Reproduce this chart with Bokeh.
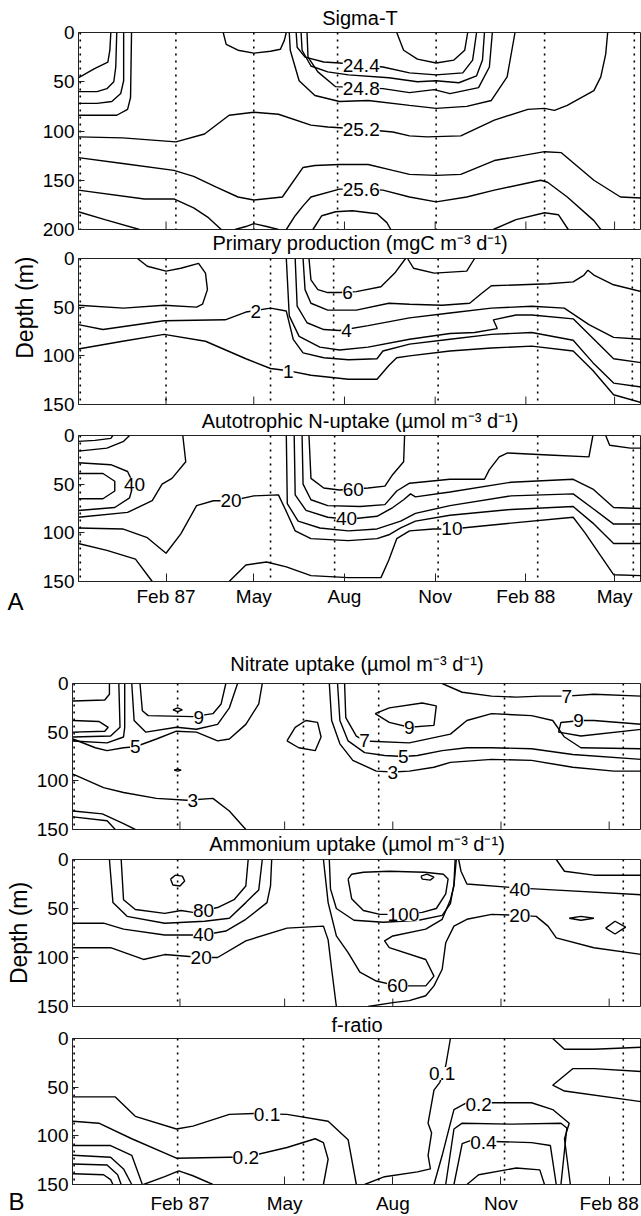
from bokeh.plotting import figure
from bokeh.layouts import column
from bokeh.models import Range1d, FixedTicker, LabelSet, ColumnDataSource, Title
from bokeh.embed import file_html
from bokeh.resources import INLINE
from bokeh.core.properties import value

FONT = "Liberation Sans"

# ---------------- DATA (x = days since 1 Nov 1986, y = depth in m) ----------------
tick_days_a = [92, 181, 273, 365, 457, 547]
tick_labels_a = ["Feb 87", "May", "Aug", "Nov", "Feb 88", "May"]
tick_days_b = [92, 181, 273, 365, 457]
tick_labels_b = ["Feb 87", "May", "Aug", "Nov", "Feb 88"]

sigma_cruise_days = [5, 102, 181, 266, 366, 476, 567]
pp_cruise_days = [5, 92, 198, 262, 368, 469, 565]
nup_cruise_days = [5, 198, 263, 368, 469, 566]
b_cruise_days = [2, 90, 197, 261, 368, 469]

# Sigma-T isopycnals
sigma_days = [
    [36, 35, 33, 19, 3],
    [42, 41, 39, 32, 22, 3],
    [49, 49, 46, 37, 22, 3],
    [57, 56, 53, 42, 3],
    [150, 153, 165, 181, 198, 208, 212, 214],
    [326, 333, 347, 366, 384, 395, 398],
    [224, 225, 233, 252, 268, 312, 339, 366, 393, 403, 407],
    [229, 230, 239, 256, 277, 318, 347, 366, 389, 407, 413, 415],
    [235, 236, 246, 264, 312, 339, 364, 380, 409, 420, 423],
    [217, 218, 227, 243, 268, 297, 339, 366, 397, 422, 438, 446],
    [3, 48, 102, 131, 156, 181, 206, 239, 256, 289, 322, 339, 357, 391, 425, 459, 476, 486, 499, 526, 533, 538, 540],
    [3, 48, 100, 120, 143, 165, 181, 210, 231, 243, 268, 297, 322, 339, 366, 391, 425, 476, 493, 526, 553, 575],
    [3, 70, 100, 120, 135, 148],
    [214, 223, 231, 239, 268, 289, 312, 339, 366, 397, 425, 472, 479, 499, 526, 533],
    [3, 30, 65],
    [162, 173, 181, 194, 206],
    [241, 250, 264, 281, 306, 316, 320],
    [424, 447, 476, 490, 500],
]
sigma_depths = [
    [0, 18, 30, 37, 46],
    [0, 35, 50, 57, 60, 60],
    [0, 49, 62, 70, 72, 72],
    [0, 66, 78, 84, 84],
    [0, 12, 18, 21, 19, 17, 8, 0],
    [0, 18, 27, 31, 28, 18, 0],
    [0, 15, 25, 30, 31, 35, 41, 43, 41, 28, 0],
    [0, 18, 34, 40, 43, 46, 50, 49, 51, 44, 28, 0],
    [0, 25, 40, 55, 57, 61, 58, 62, 56, 35, 0],
    [0, 18, 49, 64, 70, 69, 74, 77, 75, 69, 45, 0],
    [106, 107, 111, 103, 84, 81, 83, 94, 96, 98, 101, 105, 106, 105, 89, 78, 77, 79, 74, 59, 45, 22, 0],
    [127, 133, 140, 146, 157, 167, 170, 167, 137, 135, 134, 134, 140, 144, 145, 144, 130, 121, 122, 150, 167, 168],
    [160, 169, 169, 178, 188, 200],
    [200, 186, 176, 167, 159, 159, 160, 167, 172, 167, 160, 150, 152, 167, 191, 200],
    [182, 190, 200],
    [200, 197, 194, 197, 200],
    [200, 186, 182, 181, 184, 193, 200],
    [200, 190, 183, 185, 200],
]
sigma_label_text = ["24.4", "24.8", "25.2", "25.6"]
sigma_label_days = [290, 290, 290, 290]
sigma_label_depths = [33, 57, 98, 159]

# Primary production
pp_days = [
    [63, 73, 92, 107, 125, 132, 134, 129, 123, 90, 49, 3],
    [237, 239, 246, 256, 268, 285, 310, 324, 335],
    [337, 343, 364, 397, 405],
    [231, 233, 239, 256, 285, 318, 339, 372, 400, 412, 422, 480, 505, 516, 520, 526, 546, 574],
    [223, 225, 235, 252, 268, 297, 339, 380, 422, 463, 496, 521, 546, 574],
    [214, 217, 227, 248, 268, 297, 339, 380, 405, 428, 424, 447, 463, 505, 525, 546, 574],
    [3, 28, 90, 152, 173, 198, 214, 221, 231, 252, 277, 306, 312, 339, 380, 422, 463, 505, 525, 546, 574],
    [3, 48, 90, 132, 173, 198, 214, 239, 277, 306, 318, 326, 339, 380, 422, 463, 505, 525, 546, 574],
]
pp_depths = [
    [0, 8, 13, 10, 5, 15, 32, 47, 50, 48, 51, 48],
    [0, 22, 32, 35, 35, 34, 29, 15, 0],
    [0, 10, 15, 13, 0],
    [0, 32, 46, 53, 53, 46, 47, 48, 46, 36, 28, 26, 24, 17, 12, 17, 27, 34],
    [0, 49, 66, 73, 74, 69, 61, 56, 51, 49, 51, 68, 81, 83],
    [0, 59, 80, 91, 94, 91, 83, 77, 76, 72, 63, 58, 58, 62, 82, 103, 107],
    [68, 73, 64, 63, 55, 51, 54, 83, 97, 102, 104, 103, 95, 88, 83, 78, 76, 84, 107, 128, 132],
    [93, 85, 78, 85, 103, 113, 115, 120, 124, 124, 110, 102, 100, 95, 92, 90, 95, 115, 140, 148],
]
pp_label_text = ["6", "4", "2", "1"]
pp_label_days = [276, 275, 183, 216]
pp_label_depths = [35, 74, 54, 116]

# Autotrophic N-uptake
nup_days = [
    [237, 239, 252, 268, 297, 314, 322, 333, 334],
    [230, 231, 239, 256, 289, 314, 326, 339, 380, 415, 420, 430, 438, 480, 521, 525],
    [222, 223, 234, 256, 277, 306, 322, 333, 340, 345, 380, 442, 505, 525, 546, 574],
    [214, 215, 226, 248, 277, 306, 330, 345, 380, 442, 505, 525, 546, 574],
    [3, 48, 73, 92, 107, 123, 140, 158, 181, 206, 214, 223, 239, 277, 306, 318, 330, 345, 380, 442, 505, 525, 546, 574],
    [156, 173, 194, 214, 239, 277, 310, 318, 326, 339, 363, 382, 442, 505, 517, 546, 574],
    [3, 36, 53, 59, 55, 40, 3],
    [3, 28, 40, 40, 28, 3],
    [109, 112, 98, 88, 78, 53, 3],
    [3, 20, 36, 38],
    [3, 32, 49, 55],
    [3, 32, 61, 78],
    [538, 542, 563, 574],
]
nup_depths = [
    [0, 44, 54, 56, 54, 52, 40, 27, 0],
    [0, 50, 66, 72, 73, 71, 57, 49, 45, 45, 35, 22, 18, 20, 22, 0],
    [0, 61, 77, 84, 86, 83, 74, 66, 60, 63, 58, 48, 45, 55, 74, 75],
    [0, 70, 88, 95, 98, 96, 88, 80, 72, 62, 60, 75, 91, 91],
    [95, 96, 105, 121, 101, 72, 67, 67, 62, 61, 78, 98, 106, 108, 106, 102, 95, 88, 82, 76, 73, 90, 111, 111],
    [150, 133, 130, 135, 144, 146, 146, 128, 106, 98, 96, 96, 90, 84, 100, 143, 144],
    [28, 30, 37, 50, 64, 74, 77],
    [39, 39, 47, 57, 65, 65],
    [0, 27, 44, 50, 67, 79, 84],
    [6, 5, 3, 0],
    [16, 13, 6, 0],
    [111, 118, 127, 150],
    [0, 10, 13, 13],
]
nup_label_text = ["40", "20", "60", "40", "10"]
nup_label_days = [60, 158, 282, 275, 382]
nup_label_depths = [50, 67, 55, 85, 96]

# Nitrate uptake
nit_days = [
    [1, 28, 32, 32],
    [1, 23, 31, 28, 1],
    [40, 41, 33, 1],
    [45, 45, 44, 30, 1],
    [1, 20, 30, 44, 54, 72, 89, 106, 124, 134, 148, 159, 162],
    [58, 60, 65, 103, 120, 127, 131],
    [51, 53, 63, 89, 106, 124, 134, 141],
    [1, 27, 44, 72, 98, 120, 134, 148],
    [219, 221, 228, 239, 259, 273, 287, 308, 322, 357, 391, 426, 461, 485],
    [226, 228, 235, 249, 266, 282, 294, 315, 336, 357, 391, 426, 485],
    [232, 233, 242, 249, 287, 322, 336, 357, 391, 409, 419, 433, 485],
    [258, 270, 298, 310, 308, 287, 270, 258],
    [315, 332, 357, 378, 398, 421, 444, 485],
    [485, 444, 433, 416, 414, 433, 485],
    [183, 190, 199, 209, 212, 207, 193, 183],
    [86, 90, 94, 90, 86],
    [87, 90, 93, 90, 87],
    [1, 26, 44, 54],
    [1, 30, 37],
]
nit_depths = [
    [18, 17, 11, 0],
    [38, 39, 45, 49, 50],
    [0, 45, 54, 55],
    [0, 45, 55, 61, 59],
    [57, 66, 69, 66, 65, 57, 49, 50, 59, 57, 42, 21, 0],
    [0, 28, 33, 34, 31, 21, 0],
    [0, 38, 50, 45, 47, 42, 25, 0],
    [93, 107, 112, 118, 120, 118, 131, 150],
    [0, 38, 62, 79, 90, 91, 90, 86, 81, 78, 79, 86, 90, 90],
    [0, 38, 59, 71, 74, 75, 74, 69, 66, 66, 67, 73, 78],
    [0, 35, 54, 59, 61, 52, 38, 31, 33, 38, 55, 66, 67],
    [31, 25, 20, 23, 43, 45, 40, 31],
    [0, 9, 13, 14, 13, 13, 11, 13],
    [42, 38, 38, 40, 50, 54, 47],
    [59, 45, 38, 40, 55, 69, 66, 59],
    [27, 25, 27, 29, 27],
    [89, 88, 89, 90, 89],
    [131, 134, 144, 150],
    [137, 141, 150],
]
nit_label_text = ["9", "5", "3", "7", "9", "5", "3", "7", "9"]
nit_label_days = [108, 54, 103, 249, 287, 282, 273, 421, 431]
nit_label_depths = [35, 65, 120, 59, 45, 75, 91, 13, 38]

# Ammonium uptake
amm_days = [
    [1, 33, 61, 79, 100, 110, 124, 148, 183, 214, 218, 221, 225],
    [1, 27, 44, 79, 96, 112, 131, 148, 166, 169, 170],
    [42, 44, 54, 79, 93, 103, 112, 124, 138, 148, 150],
    [32, 35, 47, 79, 113, 134, 148, 159, 162],
    [84, 88, 94, 96, 92, 86, 84],
    [235, 238, 248, 262, 282, 298, 310, 318, 320, 316, 300, 270, 248, 238, 235],
    [297, 302, 308, 305, 298, 297],
    [219, 220, 225, 240, 265, 295, 315, 322, 325, 326],
    [214, 218, 225, 235, 245, 259, 277, 301, 308, 301, 270, 266, 273, 301, 315, 322, 325, 327],
    [252, 273, 287, 301, 308, 315, 318, 325, 336, 357, 381, 395, 405, 412, 444, 485],
    [329, 331, 336, 378, 409, 485],
    [412, 419, 444, 485],
    [423, 433, 444, 433, 423],
    [454, 462, 471, 462, 454],
]
amm_depths = [
    [90, 90, 102, 97, 99, 100, 100, 83, 70, 68, 82, 112, 150],
    [65, 65, 71, 77, 77, 77, 73, 61, 44, 27, 0],
    [0, 41, 51, 55, 52, 54, 52, 49, 41, 27, 0],
    [0, 44, 58, 65, 63, 60, 44, 31, 0],
    [20, 16, 17, 22, 27, 26, 20],
    [20, 40, 52, 56, 56, 54, 50, 35, 20, 15, 13, 12, 13, 15, 20],
    [17, 15, 18, 21, 20, 17],
    [0, 30, 50, 62, 64, 62, 57, 45, 25, 0],
    [0, 44, 78, 95, 115, 124, 129, 129, 119, 102, 90, 83, 78, 71, 61, 41, 27, 0],
    [150, 146, 144, 139, 129, 112, 85, 68, 61, 56, 57, 58, 68, 80, 90, 97],
    [0, 12, 25, 29, 31, 36],
    [0, 12, 16, 16],
    [60, 58, 60, 62, 60],
    [70, 63, 69, 76, 70],
]
amm_label_text = ["80", "40", "20", "100", "60", "40", "20"]
amm_label_days = [112, 112, 110, 282, 277, 381, 381]
amm_label_depths = [52, 77, 100, 56, 129, 31, 57]

# f-ratio
fr_days = [
    [322, 318, 313, 308, 303, 306, 303, 305, 294, 266, 249],
    [1, 37, 54, 89, 103, 134, 155, 183, 218, 235, 242],
    [1, 23, 51, 89, 134, 148, 183, 207, 214, 218, 214],
    [1, 33, 51, 60],
    [1, 33, 44, 51],
    [1, 30, 39, 42],
    [1, 27, 33, 35],
    [61, 79, 91, 103, 120],
    [308, 315, 322, 325, 336, 357, 391, 409, 423, 419, 424],
    [318, 325, 332, 374, 416, 421, 416],
    [325, 332, 339, 391, 407, 412],
    [336, 346, 378, 398, 402],
    [409, 419, 444, 485],
    [485, 444, 426, 409, 419, 485],
]
fr_depths = [
    [0, 28, 45, 53, 87, 97, 120, 134, 137, 142, 150],
    [60, 60, 80, 93, 90, 78, 77, 78, 85, 104, 150],
    [85, 87, 103, 123, 122, 122, 112, 103, 107, 124, 150],
    [110, 110, 120, 150],
    [120, 122, 134, 150],
    [129, 130, 140, 150],
    [139, 140, 145, 150],
    [150, 142, 136, 141, 150],
    [150, 120, 87, 73, 66, 66, 66, 73, 87, 103, 150],
    [150, 93, 87, 88, 87, 92, 150],
    [150, 108, 105, 107, 110, 150],
    [150, 140, 133, 135, 150],
    [0, 11, 11, 9],
    [34, 31, 31, 48, 54, 65],
]
fr_label_text = ["0.1", "0.1", "0.2", "0.2", "0.4"]
fr_label_days = [315, 166, 148, 346, 350]
fr_label_depths = [36, 78, 122, 68, 107]

panel_letters = ["A", "B"]
depth_label = "Depth (m)"

# ---------------- LAYOUT ----------------
A_X = (3.2, 574.3)
B_X = (0.6, 484.5)
W = 641


def make_panel(title, days, depths, lab_t, lab_x, lab_y, cruise, xr, ymax, yticks,
               left, top, frame_h, bottom, ticks, tick_labels, show_xlabels,
               title_standoff, margin_top, xlabel_standoff=5):
    h = top + frame_h + bottom
    p = figure(width=W, height=h, x_range=Range1d(*xr), y_range=Range1d(ymax, 0),
               output_backend="svg", toolbar_location=None,
               min_border_left=left, min_border_right=0,
               min_border_top=top, min_border_bottom=bottom)
    p.margin = (margin_top, 0, 0, 0)
    p.grid.visible = False
    p.outline_line_color = "#222222"
    p.outline_line_width = 1
    p.background_fill_color = "white"
    p.border_fill_color = None
    px_per_m = frame_h / ymax

    p.title.text = title
    p.title.align = "center"
    p.title.text_font = FONT
    p.title.text_font_size = "20px"
    p.title.text_font_style = "normal"
    p.title.text_color = "black"
    p.title.standoff = title_standoff

    ya = p.yaxis[0]
    ya.ticker = FixedTicker(ticks=yticks)
    ya.major_tick_in = 6
    ya.major_tick_out = 0
    ya.minor_tick_line_color = None
    ya.axis_line_color = "#222222"
    ya.major_tick_line_color = "#222222"
    ya.major_label_text_font = FONT
    ya.major_label_text_font_size = "19px"
    ya.major_label_text_color = "black"
    ya.major_label_standoff = 4

    xa = p.xaxis[0]
    if show_xlabels:
        xa.ticker = FixedTicker(ticks=ticks)
        xa.major_label_overrides = {d: t for d, t in zip(ticks, tick_labels)}
        xa.major_tick_in = 8
        xa.major_tick_out = 0
        xa.minor_tick_line_color = None
        xa.axis_line_color = "#222222"
        xa.major_tick_line_color = "#222222"
        xa.major_label_text_font = FONT
        xa.major_label_text_font_size = "19px"
        xa.major_label_text_color = "black"
        xa.major_label_standoff = xlabel_standoff
    else:
        xa.visible = False
        tl = 8 / px_per_m
        p.segment(x0=ticks, y0=[ymax] * len(ticks), x1=ticks, y1=[ymax - tl] * len(ticks),
                  line_color="#222222", line_width=1)

    # sampling (cruise) dotted lines
    p.segment(x0=cruise, y0=[0] * len(cruise), x1=cruise, y1=[ymax] * len(cruise),
              line_color="black", line_width=1.6, line_dash="2 5")

    # isolines
    p.multi_line(xs=days, ys=depths, line_color="black", line_width=1.4)

    src = ColumnDataSource(dict(x=lab_x, y=lab_y, t=lab_t))
    p.add_layout(LabelSet(x="x", y="y", text="t", source=src, text_align="center",
                          text_baseline="middle", text_font=value(FONT), text_font_size=value("19px"),
                          text_color="black", background_fill_color="white",
                          background_fill_alpha=1.0))
    return p


def add_letter(p, letter, left, standoff):
    t = Title(text=letter, align="left", vertical_align="top", offset=-left,
              text_font=FONT, text_font_size="24px", text_font_style="normal",
              text_color="black")
    try:
        t.standoff = standoff
    except Exception:
        t.standoff = 0
    p.add_layout(t, "below")


p1 = make_panel("Sigma-T", sigma_days, sigma_depths, sigma_label_text, sigma_label_days,
                sigma_label_depths, sigma_cruise_days, A_X, 200, [0, 50, 100, 150, 200],
                78, 32, 197, 12, tick_days_a, tick_labels_a, False, 8, 0)
p2 = make_panel("Primary production (mgC m\u207b\u00b3 d\u207b\u00b9)", pp_days, pp_depths,
                pp_label_text, pp_label_days, pp_label_depths, pp_cruise_days, A_X, 150,
                [0, 50, 100, 150], 78, 33, 147, 12, tick_days_a, tick_labels_a, False, 10, -17)
p3 = make_panel("Autotrophic N-uptake (\u00b5mol m\u207b\u00b3 d\u207b\u00b9)", nup_days, nup_depths,
                nup_label_text, nup_label_days, nup_label_depths, nup_cruise_days, A_X, 150,
                [0, 50, 100, 150], 78, 31, 147, 59, tick_days_a, tick_labels_a, True, 8, -13, 4)
p4 = make_panel("Nitrate uptake (\u00b5mol m\u207b\u00b3 d\u207b\u00b9)", nit_days, nit_depths,
                nit_label_text, nit_label_days, nit_label_depths, b_cruise_days, B_X, 150,
                [0, 50, 100, 150], 72, 43, 146, 12, tick_days_b, tick_labels_b, False, 18, 0)
p5 = make_panel("Ammonium uptake (\u00b5mol m\u207b\u00b3 d\u207b\u00b9)", amm_days, amm_depths,
                amm_label_text, amm_label_days, amm_label_depths, b_cruise_days, B_X, 150,
                [0, 50, 100, 150], 72, 32, 148, 12, tick_days_b, tick_labels_b, False, 9, -15)
p6 = make_panel("f-ratio", fr_days, fr_depths, fr_label_text, fr_label_days, fr_label_depths,
                b_cruise_days, B_X, 150, [0, 50, 100, 150], 72, 32, 148, 30,
                tick_days_b, tick_labels_b, True, 5, -12, 8)

# "Depth (m)" labels, centred on each group of panels
tA = Title(text=depth_label, align="right", offset=-2, text_font=FONT, text_font_size="23px",
           text_font_style="normal", text_color="black", standoff=4)
p2.add_layout(tA, "left")
tB = Title(text=depth_label, align="center", text_font=FONT, text_font_size="23px",
           text_font_style="normal", text_color="black", standoff=4)
p5.add_layout(tB, "left")

# panel letters
add_letter(p3, panel_letters[0], 71, -44)
add_letter(p6, panel_letters[1], 64, -58)

group_a = column(p1, p2, p3, spacing=0)
group_b = column(p4, p5, p6, spacing=0)
layout = column(group_a, group_b, spacing=0)
open("out.html", "w").write(file_html(layout, INLINE))
